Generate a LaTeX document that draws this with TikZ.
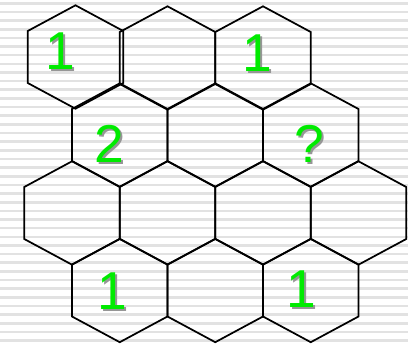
\documentclass[tikz,border=0pt]{standalone}
\usepackage{fontspec}
\newfontfamily\labelfont{Liberation Sans}
\definecolor{cellgreen}{RGB}{0,235,0}
\definecolor{shadowgray}{RGB}{150,150,150}
\definecolor{stripegray}{RGB}{226,226,226}
\tikzset{
  cell/.style={line width=1.3pt,line join=miter},
  stripe/.style={fill=stripegray},
  digit/.style={inner sep=0pt,anchor=base,font=\labelfont\fontsize{40}{40}\selectfont,text=cellgreen},
  digitshadow/.style={digit,text=shadowgray}
}
% one hexagon cell, centre (#1,#2)
\newcommand{\hexcell}[2]{%
  \draw[cell] (#1,#2) +(0,-51.7) -- +(47.75,-26) -- +(47.75,26) -- +(0,51.7)
    -- +(-47.75,26) -- +(-47.75,-26) -- cycle;}
% green number with grey drop shadow
\newcommand{\celllabel}[4]{%
  \node[digitshadow] (#1s) at (#2+2,#3+2) {#4};
  \node[digit] (#1) at (#2,#3) {#4};}

\begin{document}
\begin{tikzpicture}[x=.75pt,y=-.75pt]
\useasboundingbox (0,0) rectangle (408,346);
% Striped background.
\foreach \k in {0,...,39}{
  \fill[stripe] (0,\k*8.65+2) rectangle (408,\k*8.65+4.6);
}
% Top row: the left cell sits a little off the grid.
\hexcell{75.5}{57}
\foreach \cx in {167.5,263}{\hexcell{\cx}{58}}
% Shifted rows.
\foreach \cy in {135,290.5}{
  \foreach \cx in {119.75,215.25,310.75}{\hexcell{\cx}{\cy}}
}
% Middle row of four.
\foreach \cx in {72,167.5,263,358.5}{\hexcell{\cx}{213}}
% Numbers.
\celllabel{oneA}{60}{70}{1}
\celllabel{oneB}{257}{72}{1}
\celllabel{two}{109.5}{163}{2}
\celllabel{query}{309}{163}{?}
\celllabel{oneC}{112}{310}{1}
\celllabel{oneD}{301}{308}{1}
\end{tikzpicture}
\end{document}
